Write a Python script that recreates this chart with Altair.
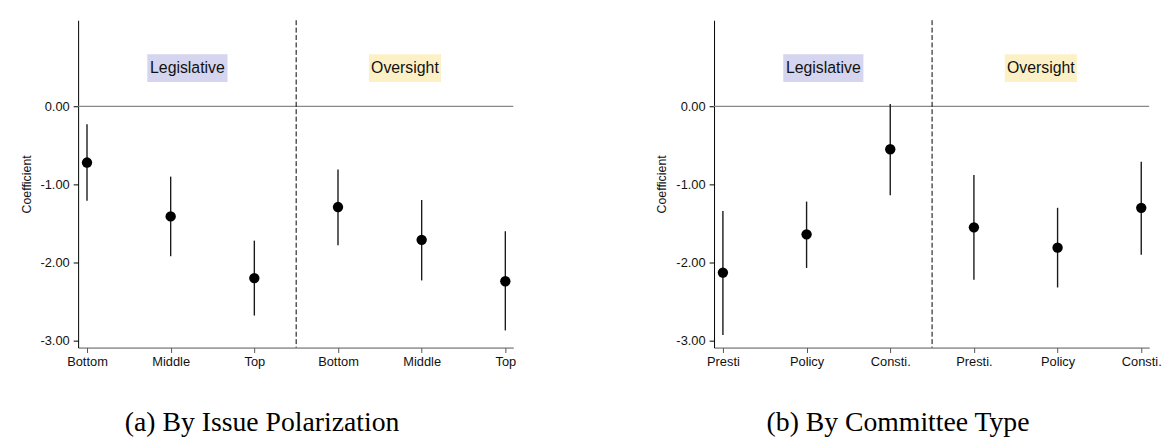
import altair as alt
import pandas as pd

# ---- data ----
positions = [0, 1, 2, 3, 4, 5]
divider = [2.5]

pol_labels = ["Bottom", "Middle", "Top", "Bottom", "Middle", "Top"]
pol_coef = [-0.72, -1.41, -2.20, -1.29, -1.71, -2.24]
pol_lo = [-1.21, -1.92, -2.68, -1.78, -2.23, -2.87]
pol_hi = [-0.23, -0.90, -1.72, -0.81, -1.20, -1.60]

com_labels = ["Presti", "Policy", "Consti.", "Presti.", "Policy", "Consti."]
com_coef = [-2.13, -1.64, -0.55, -1.55, -1.81, -1.30]
com_lo = [-2.93, -2.07, -1.14, -2.22, -2.32, -1.90]
com_hi = [-1.34, -1.22, 0.03, -0.88, -1.30, -0.71]

group_names = ["Legislative", "Oversight"]
group_x = [1.2, 3.8]
group_y = [0.49, 0.49]
group_halfw = [0.479, 0.431]
group_halfh = [0.177, 0.177]
group_colors = ["#d5d5ef", "#fcf1c6"]

y_ticks = [0, -1, -2, -3]
y_domain = [-3.09, 1.103]
x_domain = [-0.106, 5.095]

captions = ["(a) By Issue Polarization", "(b) By Committee Type"]

SANS = "Liberation Sans"
SERIF = "Liberation Serif"


def panel(labels, coef, lo, hi, caption):
    df = pd.DataFrame({"pos": positions, "coef": coef, "lo": lo, "hi": hi})
    groups = pd.DataFrame({
        "name": group_names,
        "x": group_x,
        "y": group_y,
        "x1": [c - w for c, w in zip(group_x, group_halfw)],
        "x2": [c + w for c, w in zip(group_x, group_halfw)],
        "y1": [c - h for c, h in zip(group_y, group_halfh)],
        "y2": [c + h for c, h in zip(group_y, group_halfh)],
        "color": group_colors,
    })
    label_expr = "[" + ",".join("'" + l + "'" for l in labels) + "][datum.value]"

    xs = alt.Scale(domain=x_domain, nice=False, zero=False)
    ys = alt.Scale(domain=y_domain, nice=False, zero=False)

    x_axis = alt.Axis(
        values=positions, labelExpr=label_expr, title=None, grid=False,
        domainColor="#555555", tickColor="#555555", tickSize=5,
        labelFont=SANS, labelFontSize=13, labelColor="#111111", labelPadding=3,
        labelFlush=False,
    )
    y_axis = alt.Axis(
        values=y_ticks, title="Coefficient", grid=False,
        labelExpr="replace(format(datum.value, '.2f'), '\u2212', '-')",
        domainColor="#000000", tickColor="#000000", tickSize=5,
        labelFont=SANS, labelFontSize=13, labelColor="#111111", labelPadding=4,
        titleFont=SANS, titleFontSize=12.5, titleFontWeight="normal",
        titleColor="#111111", titlePadding=7,
    )

    base = alt.Chart(df)

    zero = alt.Chart(pd.DataFrame({"y": [0]})).mark_rule(
        color="#888888", strokeWidth=1.1
    ).encode(y=alt.Y("y:Q", scale=ys, axis=y_axis))

    boxes = alt.Chart(groups).mark_rect().encode(
        x=alt.X("x1:Q", scale=xs, axis=x_axis), x2="x2:Q",
        y=alt.Y("y1:Q", scale=ys), y2="y2:Q",
        color=alt.Color("color:N", scale=None),
    )
    texts = alt.Chart(groups).mark_text(
        font=SANS, fontSize=16, color="#111111", baseline="middle", align="center"
    ).encode(x=alt.X("x:Q", scale=xs), y=alt.Y("y:Q", scale=ys), text="name:N")

    dash = alt.Chart(pd.DataFrame({"x": divider})).mark_rule(
        color="#000000", strokeDash=[5, 2.5], strokeWidth=1
    ).encode(x=alt.X("x:Q", scale=xs))

    bars = base.mark_rule(color="#1a1a1a", strokeWidth=1.4).encode(
        x=alt.X("pos:Q", scale=xs), y=alt.Y("lo:Q", scale=ys), y2="hi:Q"
    )
    pts = base.mark_circle(size=110, color="#000000", opacity=1).encode(
        x=alt.X("pos:Q", scale=xs), y=alt.Y("coef:Q", scale=ys)
    )

    return alt.layer(zero, boxes, texts, dash, bars, pts).properties(
        width=440, height=331,
        title=alt.TitleParams(
            caption, orient="bottom", anchor="middle", frame="group", dx=-34,
            font=SERIF, fontSize=28, fontWeight="normal", color="#000000",
            offset=41,
        ),
    )


left = panel(pol_labels, pol_coef, pol_lo, pol_hi, captions[0])
right = panel(com_labels, com_coef, com_lo, com_hi, captions[1])

chart = alt.hconcat(left, right, spacing=141).properties(
    padding={"left": 20, "top": 17, "right": 5, "bottom": 0},
    background="#ffffff",
).configure_view(stroke=None)

chart.save("out.html", embed_options={"renderer": "svg", "actions": False})
